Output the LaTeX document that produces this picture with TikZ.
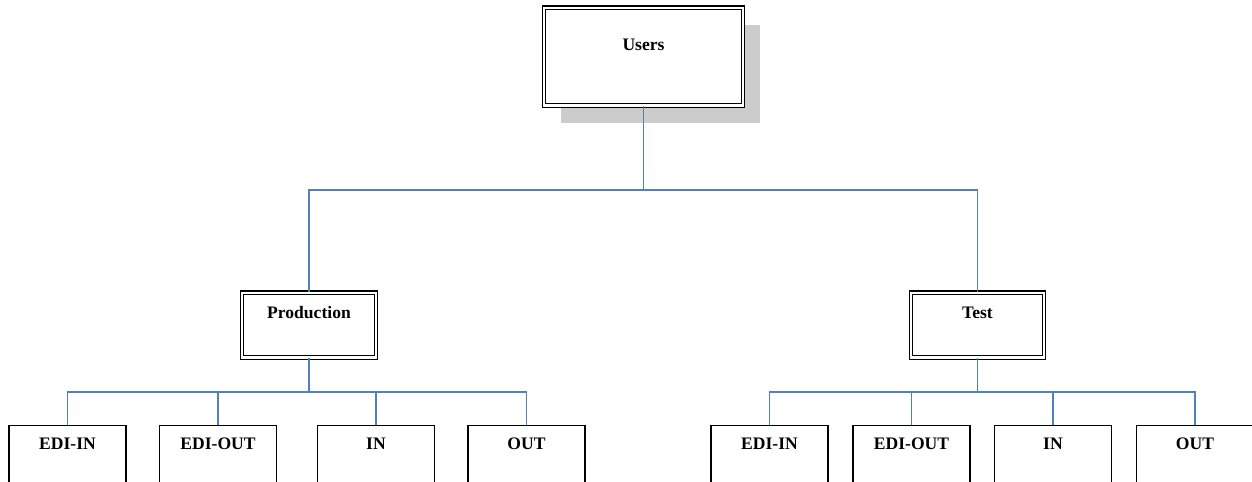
\documentclass[tikz,border=0pt]{standalone}
\usepackage{fontspec}
\setmainfont{Liberation Serif}
\usetikzlibrary{shadows}
\definecolor{linkblue}{RGB}{79,129,189}
\begin{document}
\begin{tikzpicture}[x=0.02cm,y=-0.02cm,
        main node/.style={draw,fill=white,double,double distance=1.3pt,line width=0.75pt,inner sep=0pt,anchor=north,font=\bfseries},
        leaf node/.style={draw,line width=0.8pt,inner sep=0pt,anchor=north,font=\bfseries,minimum width=2.34cm,text height=0.48cm,text depth=1.4cm},
        link/.style={draw=linkblue,line width=0.7pt}]
        \useasboundingbox (0,0) rectangle (1252,482);
        \clip (0,0) rectangle (1252,482);

        \node[main node, general shadow={fill=black!20,shadow xshift=0.34cm,shadow yshift=-0.35cm},
              minimum width=3.98cm, text height=0.86cm, text depth=1.1cm] at (643.5, 7) (users) {Users};
        \node[main node, minimum width=2.68cm, text height=0.52cm, text depth=0.78cm] at (309, 292) (prod) {Production};
        \node[main node, minimum width=2.66cm, text height=0.52cm, text depth=0.78cm] at (977.5, 292) (test) {Test};

        \node[leaf node] at (67.5, 425) (pedin) {EDI-IN};
        \node[leaf node] at (218, 425) (pedout) {EDI-OUT};
        \node[leaf node] at (376, 425) (pin) {IN};
        \node[leaf node] at (526.5, 425) (pout) {OUT};
        \node[leaf node] at (769.5, 425) (tedin) {EDI-IN};
        \node[leaf node] at (911.5, 425) (tedout) {EDI-OUT};
        \node[leaf node] at (1053, 425) (tin) {IN};
        \node[leaf node] at (1195, 425) (tout) {OUT};

        \coordinate (ubus) at (643.5, 190);
        \coordinate (pbus) at (309, 392);
        \coordinate (tbus) at (977.5, 392);

        \path[link] (users.south) -- (ubus) -| (prod.north);
        \path[link] (ubus) -| (test.north);
        \path[link] (prod.south) -- (pbus);
        \path[link] (tbus) -- (test.south);
        \foreach \n in {pedin,pedout,pin,pout}
            \path[link] (pbus) -| (\n.north);
        \foreach \n in {tedin,tedout,tin,tout}
            \path[link] (tbus) -| (\n.north);
        \end{tikzpicture}
\end{document}
